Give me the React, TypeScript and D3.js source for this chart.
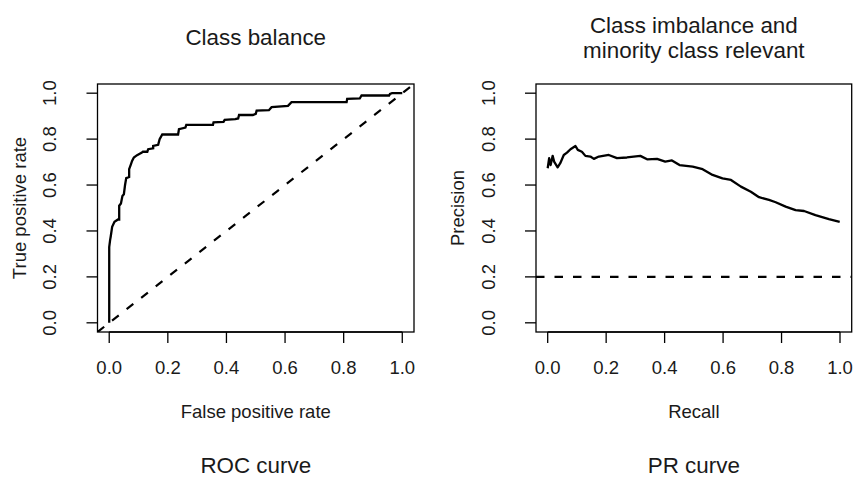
import React from "react";
import * as d3 from "d3";

const rocFpr = [0, 0, 0.003, 0.005, 0.01, 0.018, 0.03, 0.034, 0.034, 0.04, 0.045, 0.05, 0.054, 0.058, 0.068, 0.068, 0.074, 0.078, 0.084, 0.095, 0.11, 0.115, 0.13, 0.133, 0.15, 0.15, 0.167, 0.172, 0.181, 0.235, 0.238, 0.26, 0.263, 0.354, 0.356, 0.39, 0.394, 0.43, 0.44, 0.443, 0.49, 0.5, 0.503, 0.545, 0.554, 0.61, 0.622, 0.81, 0.812, 0.855, 0.861, 0.955, 0.958, 0.965, 1.0];
const rocTpr = [0, 0.33, 0.36, 0.375, 0.418, 0.44, 0.45, 0.45, 0.51, 0.52, 0.552, 0.56, 0.6, 0.63, 0.635, 0.669, 0.69, 0.705, 0.72, 0.73, 0.74, 0.745, 0.745, 0.756, 0.76, 0.77, 0.775, 0.8, 0.82, 0.82, 0.843, 0.85, 0.862, 0.862, 0.873, 0.875, 0.884, 0.887, 0.89, 0.905, 0.905, 0.91, 0.924, 0.926, 0.939, 0.945, 0.961, 0.961, 0.975, 0.977, 0.99, 0.99, 0.997, 1.0, 1.0];

const prRecall = [0.0, 0.005, 0.01, 0.017, 0.022, 0.034, 0.043, 0.055, 0.066, 0.078, 0.095, 0.103, 0.117, 0.129, 0.146, 0.158, 0.175, 0.209, 0.237, 0.271, 0.317, 0.34, 0.374, 0.402, 0.425, 0.451, 0.496, 0.53, 0.564, 0.598, 0.627, 0.661, 0.695, 0.723, 0.757, 0.78, 0.814, 0.848, 0.877, 0.916, 0.962, 0.999];
const prPrecision = [0.673, 0.717, 0.687, 0.727, 0.702, 0.677, 0.695, 0.731, 0.741, 0.756, 0.77, 0.753, 0.745, 0.727, 0.724, 0.714, 0.724, 0.731, 0.717, 0.72, 0.727, 0.712, 0.714, 0.702, 0.707, 0.687, 0.68, 0.669, 0.644, 0.629, 0.622, 0.593, 0.571, 0.547, 0.535, 0.525, 0.506, 0.491, 0.487, 0.469, 0.452, 0.44];

const ticks = [0, 0.2, 0.4, 0.6, 0.8, 1.0];
const prBaseline = 0.2;

const FONT = "'Liberation Sans', Arial, Helvetica, sans-serif";
const TXT = "#1a1a1a";

type PanelProps = {
  left: number;
  right: number;
  xLabel: string;
  yLabel: string;
  title: string[];
  caption: string;
  children: (x: d3.ScaleLinear<number, number>, y: d3.ScaleLinear<number, number>) => React.ReactNode;
};

const TOP = 84;
const BOTTOM = 332;

function Panel({ left, right, xLabel, yLabel, title, caption, children }: PanelProps) {
  const x = d3.scaleLinear().domain([-0.04, 1.04]).range([left, right]);
  const y = d3.scaleLinear().domain([-0.04, 1.04]).range([BOTTOM, TOP]);
  const cx = (left + right) / 2;
  const cy = (TOP + BOTTOM) / 2;
  const titleBase = title.length === 1 ? 45 : 33;
  const clipId = `clip-${Math.round(left)}`;
  return (
    <g>
      <defs>
        <clipPath id={clipId}>
          <rect x={left} y={TOP} width={right - left} height={BOTTOM - TOP} />
        </clipPath>
      </defs>
      <g clipPath={`url(#${clipId})`}>{children(x, y)}</g>
      <rect x={left} y={TOP} width={right - left} height={BOTTOM - TOP} fill="none" stroke="#000" strokeWidth={1.3} />
      {/* x axis */}
      <line x1={x(0)} x2={x(1)} y1={BOTTOM} y2={BOTTOM} stroke="#000" strokeWidth={1.3} />
      {ticks.map((t) => (
        <g key={`xt${t}`}>
          <line x1={x(t)} x2={x(t)} y1={BOTTOM} y2={BOTTOM + 11} stroke="#000" strokeWidth={1.3} />
          <text x={x(t)} y={374} textAnchor="middle" fontSize={18.5} fontFamily={FONT} fill={TXT}>
            {t.toFixed(1)}
          </text>
        </g>
      ))}
      {/* y axis */}
      {ticks.map((t) => (
        <g key={`yt${t}`}>
          <line x1={left - 11} x2={left} y1={y(t)} y2={y(t)} stroke="#000" strokeWidth={1.3} />
          <text
            transform={`translate(${left - 41.5},${y(t)}) rotate(-90)`}
            textAnchor="middle"
            fontSize={18.5}
            fontFamily={FONT}
            fill={TXT}
          >
            {t.toFixed(1)}
          </text>
        </g>
      ))}
      <text x={cx} y={418} textAnchor="middle" fontSize={18.5} fontFamily={FONT} fill={TXT}>
        {xLabel}
      </text>
      <text
        transform={`translate(${left - 72},${cy}) rotate(-90)`}
        textAnchor="middle"
        fontSize={18.5}
        fontFamily={FONT}
        fill={TXT}
      >
        {yLabel}
      </text>
      {title.map((line, i) => (
        <text key={i} x={cx} y={titleBase + i * 25} textAnchor="middle" fontSize={22.4} fontFamily={FONT} fill={TXT}>
          {line}
        </text>
      ))}
      <text x={cx} y={473} textAnchor="middle" fontSize={22.4} fontFamily={FONT} fill={TXT}>
        {caption}
      </text>
    </g>
  );
}

export default function App() {
  const rocPts: [number, number][] = rocFpr.map((f, i) => [f, rocTpr[i]]);
  const prPts: [number, number][] = prRecall.map((r, i) => [r, prPrecision[i]]);
  return (
    <svg
      width={855}
      height={477}
      style={{ position: "absolute", left: 0, top: 0, background: "#fff", display: "block" }}
    >
      <rect x={0} y={0} width={855} height={477} fill="#fff" />
      <Panel
        left={97.5}
        right={414}
        xLabel="False positive rate"
        yLabel="True positive rate"
        title={["Class balance"]}
        caption="ROC curve"
      >
        {(x, y) => {
          const line = d3.line<[number, number]>().x((d) => x(d[0])).y((d) => y(d[1]));
          return (
            <g>
              <line
                x1={x(-0.04)}
                y1={y(-0.04)}
                x2={x(1.04)}
                y2={y(1.04)}
                stroke="#000"
                strokeWidth={2.2}
                strokeDasharray="8.5 10"
              />
              <path d={line(rocPts) || ""} fill="none" stroke="#000" strokeWidth={2.3} strokeLinejoin="miter" />
            </g>
          );
        }}
      </Panel>
      <Panel
        left={536}
        right={851.7}
        xLabel="Recall"
        yLabel="Precision"
        title={["Class imbalance and", "minority class relevant"]}
        caption="PR curve"
      >
        {(x, y) => {
          const line = d3.line<[number, number]>().x((d) => x(d[0])).y((d) => y(d[1]));
          return (
            <g>
              <line
                x1={x(-0.04)}
                y1={y(prBaseline)}
                x2={x(1.04)}
                y2={y(prBaseline)}
                stroke="#000"
                strokeWidth={2.2}
                strokeDasharray="8.5 10"
              />
              <path d={line(prPts) || ""} fill="none" stroke="#000" strokeWidth={2.3} strokeLinejoin="round" />
            </g>
          );
        }}
      </Panel>
    </svg>
  );
}
